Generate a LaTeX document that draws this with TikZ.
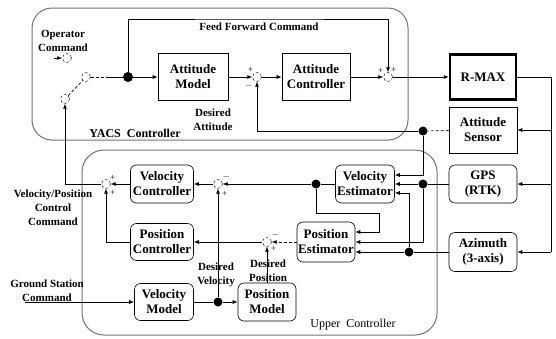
\documentclass[tikz,border=0pt]{standalone}
\usepackage{fontspec}
\setmainfont{Liberation Serif}
\usetikzlibrary{arrows.meta,calc}

\begin{document}
\begin{tikzpicture}[x=1pt,y=-1pt,line width=0.7pt,
  sq/.style={draw,line width=0.6pt,align=center,inner sep=0pt,
    font=\fontsize{13}{15}\selectfont\bfseries},
  rd/.style={sq,rounded corners=6pt},
  sum/.style={circle,draw,densely dashed,line width=0.4pt,minimum size=9pt,inner sep=0pt,
    label distance=0pt},
  sgn/.style={font=\fontsize{9}{9}\selectfont,inner sep=0.5pt},
  dot/.style={circle,fill,minimum size=9pt,inner sep=0pt},
  arr/.style={-{Latex[length=5pt,width=4pt]}},
  lbl/.style={align=center,inner sep=0pt,font=\fontsize{11}{14}\selectfont\bfseries},
  frame/.style={draw=black!55,line width=1pt}]
\useasboundingbox (0,0) rectangle (556,338);
%
% controller frames
\draw[frame,rounded corners=20pt] (32,8) rectangle (408,140);
\draw[frame,rounded corners=22pt] (82,150) rectangle (437,335);
\node[inner sep=0pt,font=\fontsize{12}{14}\selectfont\bfseries] (yacs) at (135,133) {YACS\ \ Controller};
\node[inner sep=0pt,font=\fontsize{12}{14}\selectfont] (upper) at (353,325) {Upper\ \ Controller};
%
% blocks
\node[sq,minimum width=70pt,minimum height=47pt] (attmodel) at (193,77) {Attitude\\Model};
\node[sq,minimum width=68pt,minimum height=47pt] (attctrl) at (316,77) {Attitude\\Controller};
\node[sq,line width=2.5pt,minimum width=66pt,minimum height=45pt] (rmax) at (483,77) {R-MAX};
\node[sq,minimum width=68pt,minimum height=46pt] (attsens) at (483,130) {Attitude\\Sensor};
\node[rd,minimum width=68pt,minimum height=38pt] (gps) at (483,184) {GPS\\(RTK)};
\node[rd,minimum width=68pt,minimum height=39pt] (azim) at (483,252) {Azimuth\\(3-axis)};
\node[rd,minimum width=59pt,minimum height=38pt] (velest) at (365,184) {Velocity\\Estimator};
\node[rd,minimum width=58pt,minimum height=40pt] (posest) at (326,242) {Position\\Estimator};
\node[rd,minimum width=63pt,minimum height=38pt] (velctrl) at (162,184) {Velocity\\Controller};
\node[rd,minimum width=63pt,minimum height=37pt] (posctrl) at (162,242) {Position\\Controller};
\node[rd,minimum width=59pt,minimum height=37pt] (velmodel) at (164,302) {Velocity\\Model};
\node[rd,minimum width=58pt,minimum height=38pt] (posmodel) at (267,302) {Position\\Model};
%
% summing points and switch
\node[sum] (sopcmd) at (67,58) {};
\node[sum] (ssw1) at (86,77) {};
\node[sum] (ssw2) at (65,99) {};
\node[sum,label={[sgn]135:+},label={[sgn,label distance=2pt]235:$-$}] (satt) at (257,77) {};
\node[sum,label={[sgn]150:+},label={[sgn]60:+}] (sout) at (388,77) {};
\node[sum,label={[sgn]35:$-$},label={[sgn,label distance=3pt]-65:+}] (svel) at (218,184) {};
\node[sum,label={[sgn]40:+},label={[sgn,label distance=2pt]-60:+}] (scmd) at (106,184) {};
\node[sum,label={[sgn]35:$-$},label={[sgn]-45:+}] (spos) at (267,242) {};
%
% branch points
\node[dot,minimum size=10pt] (dff) at (128,77) {};
\node[dot] (dsens) at (423,131) {};
\node[dot] (dgps) at (423,184) {};
\node[dot] (dazim) at (409,252) {};
\node[dot] (dvelest) at (316,184) {};
\node[dot] (dvel) at (218,302) {};
%
\coordinate (opin) at (54,58);
\coordinate (fftop) at (260,19);
\coordinate (rbus) at (551,77);
\coordinate (rbusend) at (551,252);
\coordinate (pvbend) at (379,213);
\coordinate (gsin) at (25,302);
%
% texts
\node[lbl] (opcmd) at (63,41) {Operator\\Command};
\node[lbl] (ffcmd) at (259,27) {Feed Forward Command};
\node[lbl] (desatt) at (213,120) {Desired\\Attitude};
\node[lbl] (vpcmd) at (53,208) {Velocity/Position\\Control\\Command};
\node[lbl] (gscmd) at (47,291) {Ground Station\\Command};
\node[lbl] (desvel) at (216,275) {Desired\\Velocity};
\node[lbl] (despos) at (268,271) {Desired\\Position};
%
% YACS loop
\draw[arr] (opin) -- (sopcmd);
\draw[densely dashed] (ssw2) -- (ssw1);
\draw[densely dashed] (ssw1) -- ($(ssw1)!0.55!(dff)$);
\draw ($(ssw1)!0.55!(dff)$) -- (dff);
\draw[arr] (dff) -- (attmodel);
\draw[arr] (dff) |- (fftop) -| (sout);
\draw[arr] (attmodel) -- (satt);
\draw[arr] (satt) -- (attctrl);
\draw[arr] (attctrl) -- (sout);
\draw[arr] (sout) -- (rmax);
%
% sensors
\draw (rmax) -- (rbus) -- (rbusend);
\draw[arr] (rbus |- attsens) -- (attsens);
\draw[arr] (rbus |- gps) -- (gps);
\draw[arr] (rbusend) -- (azim);
\draw[densely dashed] (attsens) -- (dsens);
\draw[arr] (dsens) -| (satt);
\draw[arr] (dsens) |- ($(velest.east)+(0,-9)$);
\draw (gps) -- (dgps);
\draw[arr] (dgps) -- (velest);
\draw[arr] (dgps) |- (posest);
\draw (azim) -- (dazim);
\draw[arr] (dazim) -- ($(posest.east)+(0,10)$);
\draw[arr] (dazim) |- ($(velest.east)+(0,9)$);
%
% upper loops
\draw (velest) -- (dvelest);
\draw[arr] (dvelest) -- (svel);
\draw[arr] (dvelest) |- (pvbend) |- ($(posest.east)+(0,-10)$);
\draw[arr] (svel) -- (velctrl);
\draw[arr] (velctrl) -- (scmd);
\draw[arr] (posctrl) -| (scmd);
\draw[arr] (scmd) -| (ssw2);
\draw[arr,densely dashed] (posest) -- (spos);
\draw[arr] (spos) -- (posctrl);
\draw[arr] (gsin) -- (velmodel);
\draw (velmodel) -- (dvel);
\draw[arr] (dvel) -- (posmodel);
\draw[arr] (dvel) -- (svel);
\draw[arr] (posmodel) -- (spos);
\end{tikzpicture}
\end{document}
